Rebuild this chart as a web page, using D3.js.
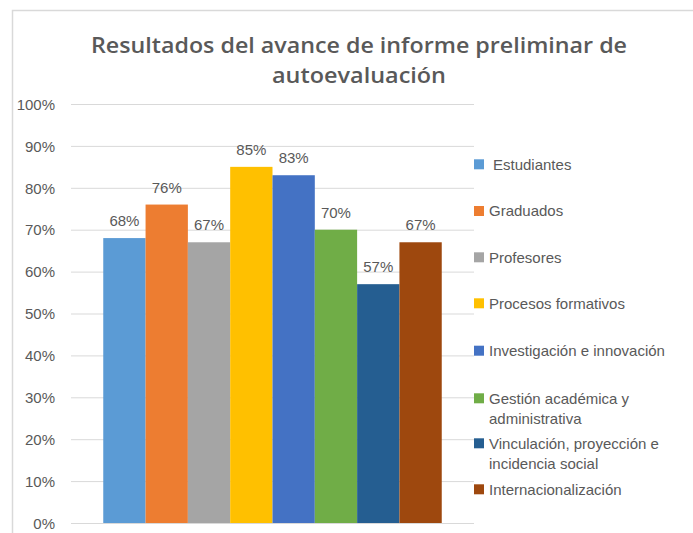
<!DOCTYPE html>
<html><head><meta charset="utf-8">
<script src="https://cdn.jsdelivr.net/npm/d3@7"></script>
<style>body{margin:0;background:#fff}svg{display:block}</style>
</head><body>
<script>
const categories = ["Estudiantes","Graduados","Profesores","Procesos formativos","Investigación e innovación","Gestión académica y administrativa","Vinculación, proyección e incidencia social","Internacionalización"];
const legendLines = [["Estudiantes"],["Graduados"],["Profesores"],["Procesos formativos"],["Investigación e innovación"],["Gestión académica y","administrativa"],["Vinculación, proyección e","incidencia social"],["Internacionalización"]];
const values = [0.68,0.76,0.67,0.85,0.83,0.70,0.57,0.67];
const colors = ["#5B9BD5","#ED7D31","#A5A5A5","#FFC000","#4472C4","#70AD47","#255E91","#9E480E"];
const yTicks = [0,0.1,0.2,0.3,0.4,0.5,0.6,0.7,0.8,0.9,1.0];
const titleLines = ["Resultados del avance de informe preliminar de","autoevaluación"];

const W=693,H=533;
const svg=d3.select("body").append("svg").attr("width",W).attr("height",H);
const font="'Liberation Sans', Arial, sans-serif";
const txt="#595959";

// chart border
svg.append("rect").attr("x",12.5).attr("y",10.5).attr("width",W+20).attr("height",H+20)
  .attr("fill","#fff").attr("stroke","#D9D9D9").attr("stroke-width",1.5);

// title
const tl=[{t:titleLines[0],y:53,len:536},{t:titleLines[1],y:83,len:174}];
svg.selectAll("text.title").data(tl).join("text").attr("class","title")
  .attr("x",359).attr("y",d=>d.y).attr("text-anchor","middle")
  .attr("font-family","'Open Sans', sans-serif").attr("font-weight",600).attr("font-size",22)
  .attr("fill",txt).attr("textLength",d=>d.len).attr("lengthAdjust","spacingAndGlyphs").text(d=>d.t);

const x0=71,x1=474,yTop=104,yBot=523;
const y=d3.scaleLinear().domain([0,1]).range([yBot,yTop]);
const outer=d3.scaleBand().domain(["g"]).range([x0,x1]).paddingInner(0).paddingOuter(0.0953);
const x=d3.scaleBand().domain(categories).range([outer("g"),outer("g")+outer.bandwidth()]).padding(0);

// gridlines
const yAxis=d3.axisLeft(y).tickValues(yTicks).tickSize(-(x1-x0)).tickFormat(d3.format(".0%")).tickPadding(16);
const ga=svg.append("g").attr("transform",`translate(${x0},0)`).call(yAxis);
ga.select(".domain").remove();
ga.selectAll(".tick line").attr("stroke","#D9D9D9").attr("stroke-width",1);
ga.selectAll(".tick text").attr("font-family",font).attr("font-size",15).attr("fill",txt).attr("dy","0.35em");

// bars
svg.selectAll("rect.bar").data(values).join("rect").attr("class","bar")
  .attr("x",(d,i)=>x(categories[i])).attr("width",x.bandwidth())
  .attr("y",d=>y(d)).attr("height",d=>yBot-y(d)).attr("fill",(d,i)=>colors[i]);

// labels
svg.selectAll("text.lbl").data(values).join("text").attr("class","lbl")
  .attr("x",(d,i)=>x(categories[i])+x.bandwidth()/2).attr("y",d=>y(d)-12)
  .attr("text-anchor","middle").attr("font-family",font).attr("font-size",15).attr("fill",txt)
  .text(d=>d3.format(".0%")(d));

// legend
const legY=[164.3,211,257.3,303.3,350.7,398.3,443.3,489.3];
const lg=svg.selectAll("g.leg").data(categories).join("g").attr("class","leg")
  .attr("transform",(d,i)=>`translate(474,${legY[i]})`);
lg.append("rect").attr("x",0).attr("y",-5).attr("width",10).attr("height",10).attr("fill",(d,i)=>colors[i]);
lg.each(function(d,i){
  const g=d3.select(this);
  legendLines[i].forEach((ln,j)=>{
    g.append("text").attr("x",i===0?19:15).attr("y",j*20).attr("dy","0.35em")
     .attr("font-family",font).attr("font-size",15).attr("fill",txt).text(ln);
  });
});
</script>
</body></html>
